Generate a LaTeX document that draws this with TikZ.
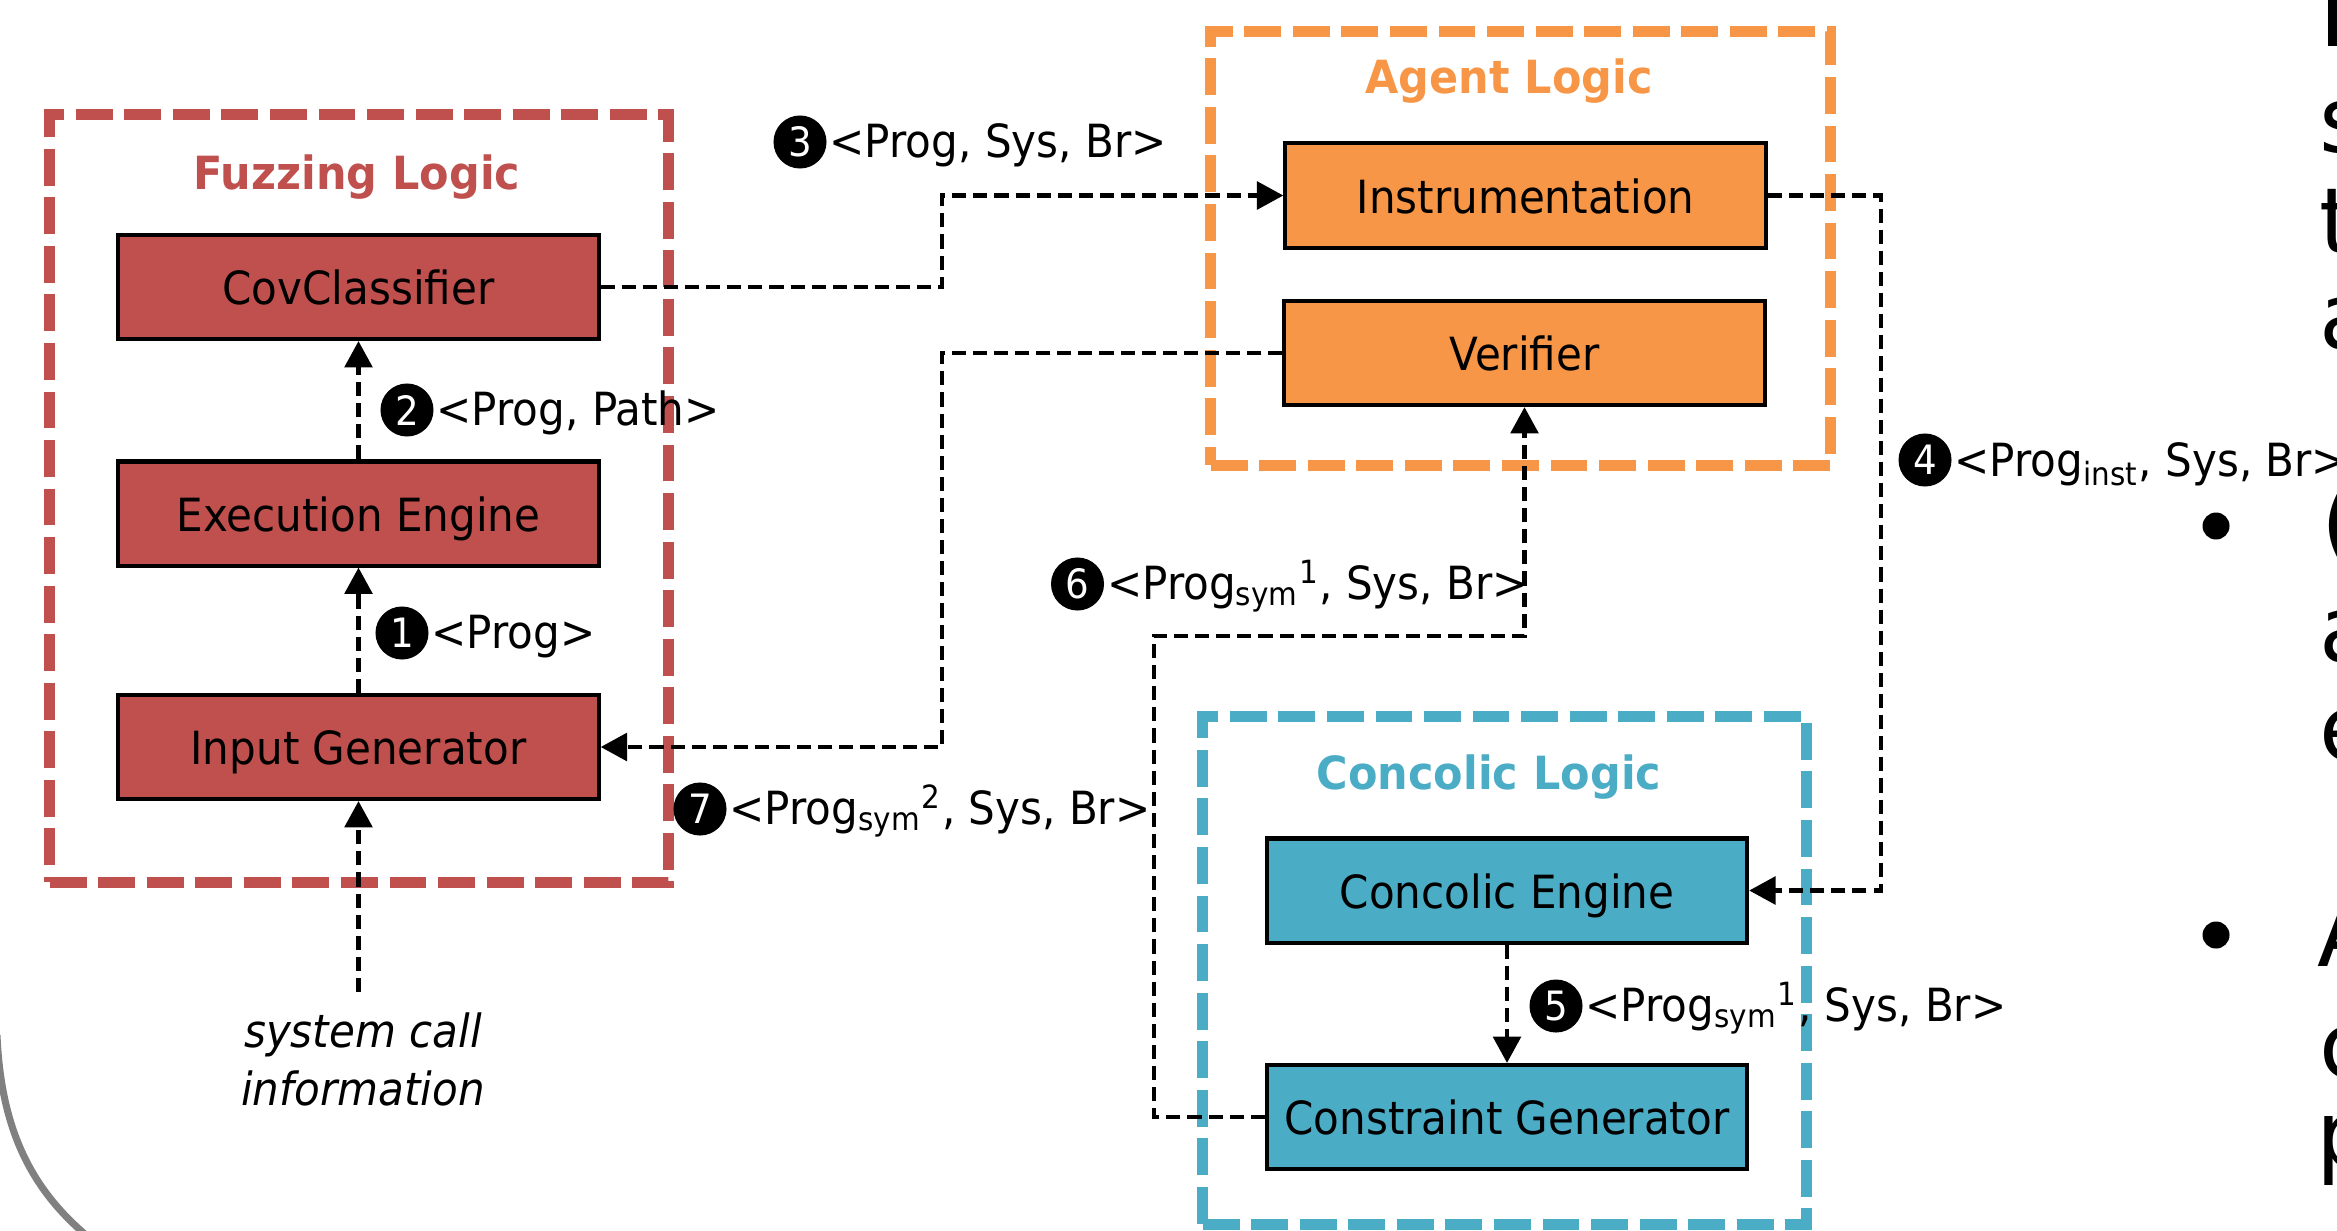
\documentclass[tikz,border=0pt]{standalone}
\usepackage{fontspec}
\setmainfont{DejaVu Sans}[FakeStretch=0.92, BoldFont={DejaVu Sans Bold}, ItalicFont={DejaVu Sans Oblique}]
\newfontfamily\titlefont{DejaVu Sans Bold}[FakeStretch=0.94]
\newfontfamily\fragfont{DejaVu Sans}
\usetikzlibrary{arrows.meta}
\definecolor{fuzzred}{HTML}{C0504D}
\definecolor{agentor}{HTML}{F79646}
\definecolor{concblue}{HTML}{4BACC6}
\definecolor{arcgray}{HTML}{808080}
\tikzset{
  groupbox/.style={draw, line width=3.1pt, dash pattern=on 10.5pt off 3.3pt, inner sep=0pt},
  block/.style={draw=black, line width=1.15pt, minimum width=4.8cm, minimum height=1.04cm, inner sep=0pt, text height=10pt, text depth=0pt, font=\fontsize{13}{15}\selectfont},
  conn/.style={draw=black, line width=1.3pt, dash pattern=on 4pt off 2pt},
  arr/.style={conn, -{Triangle[length=7.5pt,width=7.8pt]}},
  numc/.style={circle, fill=black, text=white, minimum size=0.53cm, inner sep=0pt, font=\fontsize{11.5}{11.5}\selectfont},
  lab/.style={anchor=base west, inner sep=0pt, font=\fontsize{13}{15}\selectfont},
  gtitle/.style={anchor=base, inner sep=0pt, font=\titlefont\fontsize{13}{15}\selectfont},
  frag/.style={anchor=base west, inner sep=0pt, font=\fragfont\fontsize{26}{30}\selectfont},
  bdot/.style={circle, fill=black, minimum size=0.27cm, inner sep=0pt},
}
\begin{document}
\begin{tikzpicture}[x=0.01cm, y=-0.01cm]
\useasboundingbox (0,0) rectangle (2337,1230);

% background arc
\draw[arcgray, line width=2pt] (-3,1035) .. controls (1,1128) and (30,1190) .. (92,1240);

% group containers
\node[groupbox, draw=fuzzred, minimum width=6.18cm, minimum height=7.67cm] (fuzz) at (359,498.5) {};
\node[groupbox, draw=agentor, minimum width=6.19cm, minimum height=4.33cm] (agent) at (1520.5,248.5) {};
\node[groupbox, draw=concblue, minimum width=6.03cm, minimum height=5.07cm] (conc) at (1504.5,970.5) {};

\node[gtitle, text=fuzzred] (tfuzz) at (357,189) {Fuzzing Logic};
\node[gtitle, text=agentor] (tagent) at (1509,93) {Agent Logic};
\node[gtitle, text=concblue] (tconc) at (1489,789) {Concolic Logic};

% blocks
\node[block, fill=fuzzred] (cov) at (358.5,287) {CovClassifier};
\node[block, fill=fuzzred] (exe) at (358.5,513.5) {Execution Engine};
\node[block, fill=fuzzred] (inp) at (358.5,747) {Input Generator};
\node[block, fill=agentor] (ins) at (1525.5,195.5) {Instrumentation};
\node[block, fill=agentor] (ver) at (1524.5,353) {Verifier};
\node[block, fill=concblue] (ce) at (1507,890.5) {Concolic Engine};
\node[block, fill=concblue] (cg) at (1507,1117) {Constraint Generator};

% connectors
\coordinate (kx) at (942,0);
\coordinate (k4) at (1881,0);
\coordinate (k6) at (1154,636);
\coordinate (sysin) at (358.5,992);
\draw[arr] (inp.north) -- (exe.south);
\draw[arr] (exe.north) -- (cov.south);
\draw[arr] (cov.east) -| (kx |- ins.west) -- (ins.west);
\draw[arr] (ins.east) -| (k4 |- ce.east) -- (ce.east);
\draw[arr] (ce.south) -- (cg.north);
\draw[arr] (cg.west) -| (k6) -| (ver.south);
\draw[arr] (ver.west) -| (kx |- inp.east) -- (inp.east);
\draw[arr] (sysin) -- (inp.south);

\node[align=center, inner sep=0pt, font=\fontsize{13}{16.5}\selectfont\itshape] (sysinfo) at (363,1059) {system call\\information};

% labels
\node[numc] (n1) at (402,633) {1};
\node[lab] (l1) at ([shift={(29,15)}]n1.center) {<Prog>};
\node[numc] (n2) at (407,410) {2};
\node[lab] (l2) at ([shift={(29,15)}]n2.center) {<Prog, Path>};
\node[numc] (n3) at (800,142) {3};
\node[lab] (l3) at ([shift={(29,15)}]n3.center) {<Prog, Sys, Br>};
\node[numc] (n4) at (1925,460) {4};
\node[lab] (l4) at ([shift={(29,16)}]n4.center) {<Prog\textsubscript{inst}, Sys, Br>};
\node[numc] (n5) at (1556,1006) {5};
\node[lab] (l5) at ([shift={(29,15)}]n5.center) {<Prog\textsubscript{sym}\textsuperscript{1}, Sys, Br>};
\node[numc] (n6) at (1077.5,584) {6};
\node[lab] (l6) at ([shift={(29,15)}]n6.center) {<Prog\textsubscript{sym}\textsuperscript{1}, Sys, Br>};
\node[numc] (n7) at (700,809) {7};
\node[lab] (l7) at ([shift={(29,15)}]n7.center) {<Prog\textsubscript{sym}\textsuperscript{2}, Sys, Br>};

% cropped slide text at the right edge
\node[frag] (fa) at (2319,47) {I};
\node[frag] (fb) at (2319,152) {s};
\node[frag] (fc) at (2319,253) {t};
\node[frag] (fd) at (2319,348) {a};
\node[bdot] (b1) at (2216,526) {};
\node[frag] (fe) at (2321,554) {(};
\node[frag] (ff) at (2319,661) {a};
\node[frag] (fg) at (2319,760) {e};
\node[bdot] (b2) at (2216,935) {};
\node[frag] (fh) at (2317,966) {A};
\node[frag] (fi) at (2319,1077) {c};
\node[frag] (fj) at (2316,1166) {p};
\end{tikzpicture}
\end{document}
